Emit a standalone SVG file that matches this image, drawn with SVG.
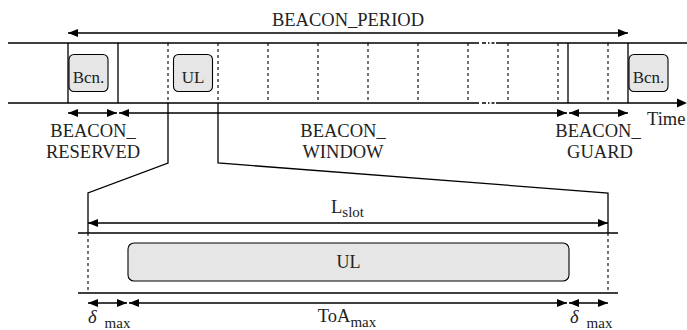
<svg xmlns="http://www.w3.org/2000/svg" width="687" height="330" viewBox="0 0 687 330">
<style>
.ln{stroke:#000;stroke-width:1.3;fill:none}
.ds{stroke:#000;stroke-width:1.1;fill:none;stroke-dasharray:3 3}
.ar{stroke:#000;stroke-width:1.3;fill:none;marker-start:url(#ah);marker-end:url(#ah)}
.box{fill:#e6e6e6;stroke:#000;stroke-width:1.1}
text{fill:#222;font-size:18.5px}
.bt{font-size:17px;text-anchor:middle}
.c{text-anchor:middle}
.sub{font-size:15px}
</style>
<defs>
<marker id="ah" viewBox="0 0 10 8" refX="10" refY="4" markerWidth="10" markerHeight="8" markerUnits="userSpaceOnUse" orient="auto-start-reverse">
<path d="M0,0 L10,4 L0,8 Z" fill="#000"/>
</marker>
</defs>
<g font-family="'Liberation Serif', 'DejaVu Serif', serif">

<g id="top-band">
<path class="ln" d="M8,43 H479 M496,43 H687"/>
<path class="ln" d="M482,43 H486 M488,43 H489.5 M491.5,43 H494.5"/>
<path class="ln" d="M8,103 H479 M496,103 H678"/>
<path class="ln" d="M482,103 H486 M488,103 H489.5 M491.5,103 H494.5"/>
<path d="M677,98.5 L687,103 L677,107.5 Z" fill="#000"/>
<path class="ln" d="M68,43 V103 M118,43 V103 M568,43 V103 M628,43 V103"/>
<path class="ds" d="M168,43 V103 M218,43 V103 M268,43 V103 M318,43 V103 M368,43 V103 M418,43 V103 M468,43 V103 M508,43 V103 M558,43 V103 M608,43 V103"/>
</g>

<g id="bcn-left">
<rect class="box" x="69" y="54.5" width="39" height="37" rx="5"/>
<text class="bt" x="88.5" y="83">Bcn.</text>
</g>
<g id="ul-top">
<rect class="box" x="173.5" y="54.5" width="39" height="37" rx="5"/>
<text class="bt" x="193" y="83">UL</text>
</g>
<g id="bcn-right">
<rect class="box" x="629" y="54.5" width="39" height="37" rx="5"/>
<text class="bt" x="648.5" y="83">Bcn.</text>
</g>

<g id="connectors">
<path class="ar" d="M68,33 H628"/>
<path class="ar" d="M68,113 H117"/>
<path class="ar" d="M119,113 H567"/>
<path class="ar" d="M569,113 H628"/>
<path class="ln" d="M168,103 V163 L88,193 V233"/>
<path class="ln" d="M218,103 V163 L608,193 V233"/>
<path class="ar" d="M88,223 H608"/>
<path class="ar" d="M88,303 H127"/>
<path class="ar" d="M129,303 H567"/>
<path class="ar" d="M569,303 H608"/>
</g>

<g id="labels-top">
<text class="c" x="348" y="26">BEACON_PERIOD</text>
<text class="c" x="93" y="137">BEACON_</text>
<text class="c" x="93" y="158">RESERVED</text>
<text class="c" x="343" y="137">BEACON_</text>
<text class="c" x="343" y="158">WINDOW</text>
<text class="c" x="598" y="137">BEACON_</text>
<text class="c" x="600" y="158">GUARD</text>
<text x="647" y="125">Time</text>
</g>

<g id="slot-band">
<path class="ln" d="M78,233 H618 M78,293 H618"/>
<path class="ds" d="M88,233 V293 M608,233 V293"/>
</g>
<g id="ul-slot">
<rect class="box" x="128" y="243" width="441" height="38" rx="6"/>
<text class="bt" x="348.5" y="268" style="font-size:18px">UL</text>
</g>

<g id="labels-bottom">
<text class="c" x="347.5" y="213">L<tspan class="sub" dy="4">slot</tspan></text>
<text x="88" y="323"><tspan font-style="italic">δ</tspan><tspan class="sub" dx="8" dy="5">max</tspan></text>
<text class="c" x="347" y="322">ToA<tspan class="sub" dy="5">max</tspan></text>
<text x="570" y="323"><tspan font-style="italic">δ</tspan><tspan class="sub" dx="8" dy="5">max</tspan></text>
</g>
</g>
</svg>
